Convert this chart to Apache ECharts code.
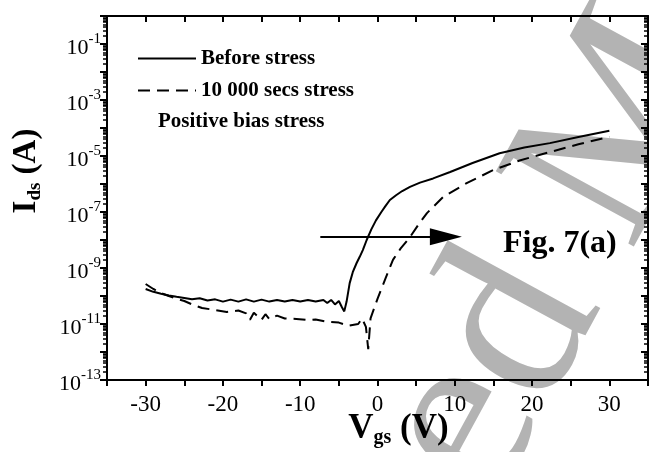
<!DOCTYPE html>
<html>
<head>
<meta charset="utf-8">
<script src="https://cdn.jsdelivr.net/npm/echarts@6/dist/echarts.min.js"></script>
<style>
  html, body { margin: 0; padding: 0; background: #fff; }
  #chart { width: 649px; height: 452px; }
</style>
</head>
<body>
<div id="chart"></div>
<script>
// Vgs (V) and Ids (A)
const vBefore = [-30, -29, -28, -27, -26, -25, -24, -23, -22, -21, -20, -19, -18, -17, -16, -15, -14, -13, -12, -11,
  -10, -9, -8, -7, -6.5, -6, -5.5, -5, -4.6, -4.3, -4.0, -3.6, -3.2, -2.7, -2.3, -1.9, -1.4, -0.8, -0.2, 0.5,
  1.0, 1.6, 2.4, 3.2, 4.2, 5.5, 7.2, 9.4, 12.3, 15.8, 19, 22.3, 26, 30];
const iBefore = [1.78e-10, 1.41e-10, 1.20e-10, 1.05e-10, 9.33e-11, 8.51e-11, 7.59e-11, 8.32e-11, 6.92e-11, 7.59e-11,
  6.31e-11, 7.41e-11, 6.31e-11, 7.59e-11, 6.31e-11, 7.41e-11, 6.31e-11, 7.24e-11, 6.31e-11, 7.24e-11,
  6.31e-11, 7.24e-11, 6.31e-11, 7.24e-11, 5.62e-11, 7.24e-11, 5.01e-11, 6.61e-11, 3.98e-11, 2.82e-11,
  6.31e-11, 2.88e-10, 7.08e-10, 1.51e-9, 2.51e-9, 4.37e-9, 1.0e-8, 2.40e-8, 5.01e-8, 1.0e-7,
  1.58e-7, 2.69e-7, 3.98e-7, 5.62e-7, 7.94e-7, 1.12e-6, 1.58e-6, 2.69e-6, 5.62e-6, 1.26e-5,
  2.0e-5, 2.88e-5, 4.79e-5, 7.94e-5];

const vStress = [-30, -29, -28, -27, -26, -25, -24, -22.7, -21, -19.5, -18, -17, -16.5, -16, -15, -14.5, -14, -13, -12,
  -10.5, -9, -8, -6.5, -5, -3.8, -2.5, -2.0, -1.5, -1.2, -0.9, 0, 1, 2, 3, 4.2, 5.3, 6.4, 8.5, 11.6, 15,
  18.5, 22.3, 26, 30];
const iStress = [2.69e-10, 1.78e-10, 1.26e-10, 1.0e-10, 7.94e-11, 6.61e-11, 5.01e-11, 3.72e-11, 3.16e-11, 2.69e-11,
  3.02e-11, 2.40e-11, 1.41e-11, 2.51e-11, 1.41e-11, 2.24e-11, 1.51e-11, 2.0e-11, 1.58e-11,
  1.51e-11, 1.38e-11, 1.45e-11, 1.20e-11, 1.12e-11, 8.71e-12, 1.0e-11, 1.58e-11, 7.94e-12, 1.26e-12, 1.58e-11,
  7.94e-11, 3.98e-10, 1.95e-9, 5.01e-9, 1.26e-8, 3.55e-8, 9.12e-8, 3.47e-7, 1.10e-6, 3.16e-6,
  7.08e-6, 1.38e-5, 2.63e-5, 4.79e-5];

const seriesNames = ['Before stress', '10 000 secs stress'];
const arrowFrom = [-7.4, 1.3e-8];
const arrowTo = [8.85, 1.3e-8];

const zip = (xs, ys) => xs.map((x, i) => [x, ys[i]]);

const serif = 'Liberation Serif';

const expLabel = value => {
  const e = Math.round(Math.log10(value));
  if (Math.abs(e) % 2 !== 1) {
    return '';
  }
  return `{b|10}{s|${e}}`;
};

const xAxisBase = {
  type: 'value',
  min: -35,
  max: 35,
  interval: 5,
  splitLine: { show: false },
  axisLine: { onZero: false, lineStyle: { color: '#000', width: 2 } },
  axisTick: { length: 6, lineStyle: { color: '#000', width: 2 } }
};

const yAxisBase = {
  type: 'log',
  logBase: 10,
  min: 1e-13,
  max: 1,
  interval: 1,
  splitLine: { show: false },
  axisLine: { onZero: false, lineStyle: { color: '#000', width: 2 } },
  axisTick: { length: 7, lineStyle: { color: '#000', width: 2 } },
  minorTick: { show: true, splitNumber: 9, length: 4, lineStyle: { color: '#000', width: 1.5 } }
};

const titleRich = size => ({
  m: { fontFamily: serif, fontWeight: 'bold', fontSize: size, color: '#000' },
  sub: { fontFamily: serif, fontWeight: 'bold', fontSize: Math.round(size * 0.58), color: '#000', padding: [18, 0, 0, 0] }
});

const chart = echarts.init(document.getElementById('chart'), null, { renderer: 'canvas' });

chart.setOption({
  animation: false,
  grid: { left: 107, right: 1, top: 16, bottom: 72, containLabel: false, outerBoundsMode: 'none' },
  legend: {
    data: seriesNames,
    orient: 'vertical',
    left: 132,
    top: 43,
    itemWidth: 58,
    itemHeight: 14,
    itemGap: 11,
    itemStyle: { opacity: 0 },
    textStyle: { fontFamily: serif, fontWeight: 'bold', fontSize: 21, lineHeight: 20, color: '#000' }
  },
  xAxis: [
    Object.assign({}, xAxisBase, {
      position: 'bottom',
      name: '{m|V}{sub|gs}{m| (V)}',
      nameLocation: 'middle',
      nameGap: 30,
      nameMoveOverlap: false,
      nameTextStyle: { rich: titleRich(35), padding: [0, 0, 0, 42] },
      axisLabel: {
        margin: 13,
        fontFamily: serif,
        fontSize: 23,
        color: '#000',
        formatter: v => (v % 10 === 0 ? String(v) : '')
      }
    }),
    Object.assign({}, xAxisBase, {
      position: 'top',
      axisTick: { inside: true, length: 6, lineStyle: { color: '#000', width: 2 } },
      axisLabel: { show: false }
    })
  ],
  yAxis: [
    Object.assign({}, yAxisBase, {
      position: 'left',
      name: '{m|I}{sub|ds}{m| (A)}',
      nameLocation: 'middle',
      nameRotate: 90,
      nameGap: 62,
      nameTextStyle: { rich: titleRich(33), padding: [0, 0, 0, 54] },
      axisLabel: {
        margin: 6,
        formatter: expLabel,
        rich: {
          b: { fontFamily: serif, fontSize: 22, color: '#000', padding: [8, 0, 0, 0] },
          s: { fontFamily: serif, fontSize: 15, color: '#000', padding: [0, 0, 10, 0] }
        }
      }
    }),
    Object.assign({}, yAxisBase, {
      position: 'right',
      axisTick: { inside: true, length: 7, lineStyle: { color: '#000', width: 2 } },
      minorTick: { show: true, splitNumber: 9, length: 4, lineStyle: { color: '#000', width: 1.5 } },
      axisLabel: { show: false }
    })
  ],
  series: [
    {
      name: seriesNames[0],
      type: 'line',
      xAxisIndex: 0,
      yAxisIndex: 0,
      data: zip(vBefore, iBefore),
      symbol: 'none',
      smooth: false,
      lineStyle: { color: '#000', width: 2 },
      itemStyle: { color: '#000' },
      z: 5,
      markLine: {
        silent: true,
        symbol: ['none', 'triangle'],
        symbolSize: [17, 32],
        label: { show: false },
        lineStyle: { color: '#000', width: 2, type: 'solid' },
        data: [[{ coord: arrowFrom }, { coord: arrowTo }]]
      }
    },
    {
      name: seriesNames[1],
      type: 'line',
      xAxisIndex: 0,
      yAxisIndex: 0,
      data: zip(vStress, iStress),
      symbol: 'none',
      smooth: false,
      lineStyle: { color: '#000', width: 2, type: [12, 7] },
      itemStyle: { color: '#000' },
      z: 5
    }
  ],
  graphic: [
    {
      type: 'text',
      z: -10,
      silent: true,
      x: 438,
      y: 474,
      rotation: 1.0716,
      style: {
        text: 'ed Manuscript',
        fontFamily: serif,
        fontSize: 240,
        fill: '#b3b3b3',
        align: 'left',
        verticalAlign: 'middle'
      }
    },
    {
      type: 'text',
      left: 158,
      top: 111,
      style: { text: 'Positive bias stress', fontFamily: serif, fontWeight: 'bold', fontSize: 21, fill: '#000' }
    },
    {
      type: 'text',
      left: 503,
      top: 228,
      style: { text: 'Fig. 7(a)', fontFamily: serif, fontWeight: 'bold', fontSize: 32, fill: '#000' }
    }
  ]
});
</script>
</body>
</html>
